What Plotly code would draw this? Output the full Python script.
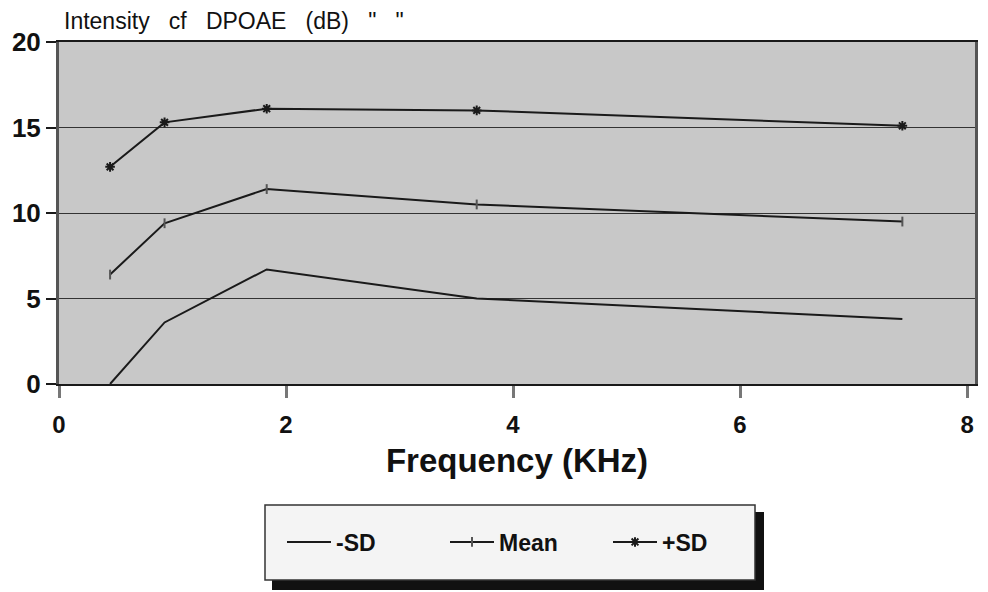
import plotly.graph_objects as go

# --- Data ---
freq_khz = [0.45, 0.93, 1.83, 3.68, 7.43]
minus_sd = [0.0, 3.6, 6.7, 5.0, 3.8]
mean_db = [6.4, 9.4, 11.4, 10.5, 9.5]
plus_sd = [12.7, 15.3, 16.1, 16.0, 15.1]

ink = "#1a1a1a"
font = "Liberation Sans, Arial, sans-serif"

# page body has an 8px margin, so the figure is shrunk and all pixel
# positions below are window coordinates minus that offset
OFF = 8
FW, FH = 988 - OFF, 592 - OFF
L, R, T, B = 59 - OFF, 975 - OFF, 42 - OFF, 384 - OFF
W, H = R - L, B - T


def px(xw):
    return (xw - OFF - L) / W


def py(yw):
    return (B - (yw - OFF)) / H


fig = go.Figure()

fig.add_trace(go.Scatter(
    x=freq_khz, y=minus_sd, mode="lines", name="-SD",
    line=dict(color=ink, width=2),
))
fig.add_trace(go.Scatter(
    x=freq_khz, y=mean_db, mode="lines+markers", name="Mean",
    line=dict(color=ink, width=2),
    marker=dict(symbol="line-ns", size=7, line=dict(color="#555555", width=2)),
))
fig.add_trace(go.Scatter(
    x=freq_khz, y=plus_sd, mode="lines+markers", name="+SD",
    line=dict(color=ink, width=2),
    marker=dict(symbol="asterisk", size=8, line=dict(color=ink, width=2)),
))

# legend box with drop shadow
fig.add_shape(
    type="rect", xref="paper", yref="paper",
    x0=px(272), x1=px(764), y0=py(590), y1=py(512),
    fillcolor="#111111", line=dict(width=0), layer="below",
)
fig.add_shape(
    type="rect", xref="paper", yref="paper",
    x0=px(265), x1=px(755), y0=py(580), y1=py(505),
    fillcolor="#f4f4f4", line=dict(color="#333333", width=1.5), layer="below",
)

sp = "&nbsp;&nbsp;&nbsp;"
fig.add_annotation(
    text=f'Intensity{sp}cf{sp}DPOAE{sp}(dB){sp}"{sp}"', xref="paper", yref="paper",
    x=px(62), y=py(21), xanchor="left", yanchor="middle", showarrow=False,
    font=dict(size=23, color="#111111", family=font),
)

fig.update_layout(
    width=FW, height=FH,
    margin=dict(l=L, r=FW - R, t=T, b=FH - B, autoexpand=False),
    paper_bgcolor="white",
    plot_bgcolor="#c8c8c8",
    font=dict(family=font, color="#111111"),
    showlegend=True,
    legend=dict(
        orientation="h", xref="paper", yref="paper",
        x=px(282), y=py(542),
        xanchor="left", yanchor="middle",
        bgcolor="rgba(0,0,0,0)", borderwidth=0,
        entrywidth=104, itemwidth=44,
        font=dict(size=23, family=font, weight="bold"),
    ),
    xaxis=dict(
        range=[0, 8.07], dtick=2, showgrid=False, zeroline=False,
        automargin=False,
        ticks="outside", ticklen=12, tickwidth=3, tickcolor="#777777",
        ticklabelstandoff=6,
        showline=True, linecolor=ink, linewidth=2, mirror=True,
        tickfont=dict(size=24, family=font, weight="bold"),
        title=dict(text="Frequency (KHz)", standoff=12,
                   font=dict(size=33, family=font, weight="bold")),
    ),
    yaxis=dict(
        range=[0, 20], dtick=5, zeroline=False,
        automargin=False,
        showgrid=True, gridcolor="#333333", gridwidth=1,
        ticks="outside", ticklen=10, tickwidth=2, tickcolor=ink,
        showline=True, linecolor="#555555", linewidth=3, mirror=True,
        tickfont=dict(size=26, family=font, weight="bold"),
    ),
)

fig.write_html("out.html")
